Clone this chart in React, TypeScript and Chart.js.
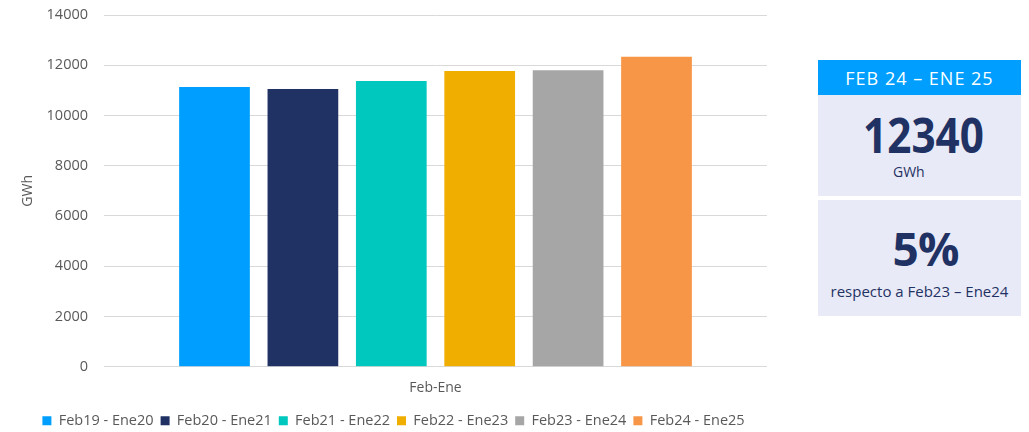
import { useEffect, useRef } from "react";
import { Chart, registerables } from "chart.js";

Chart.register(...registerables);

// Periods (Feb–Ene) shown as a single category with one bar per period
const categories = ["Feb-Ene"];
const seriesLabels = [
  "Feb19 - Ene20",
  "Feb20 - Ene21",
  "Feb21 - Ene22",
  "Feb22 - Ene23",
  "Feb23 - Ene24",
  "Feb24 - Ene25",
];
const seriesValues = [11130, 11050, 11370, 11770, 11800, 12340];
const seriesColors = ["#009FFF", "#203263", "#00C8BE", "#F0AE00", "#A6A6A6", "#F79646"];
const yTickValues = [0, 2000, 4000, 6000, 8000, 10000, 12000, 14000];

const yAxisTitle = "GWh";
const summaryPeriod = "FEB 24 – ENE 25";
const summaryUnit = "GWh";
const summaryCompare = "respecto a Feb23 – Ene24";

const FONT = "'Open Sans', 'Noto Sans', sans-serif";
const TEXT_GREY = "#595959";
const NAVY = "#1F3263";

export default function App() {
  const canvasRef = useRef<HTMLCanvasElement | null>(null);

  const total = seriesValues[seriesValues.length - 1];
  const previous = seriesValues[seriesValues.length - 2];
  const changePct = Math.round((total / previous - 1) * 100);

  useEffect(() => {
    if (!canvasRef.current) return;
    const chart = new Chart(canvasRef.current, {
      type: "bar",
      data: {
        labels: categories,
        datasets: seriesLabels.map((label, i) => ({
          label,
          data: [seriesValues[i]],
          backgroundColor: seriesColors[i],
          borderWidth: 0,
          categoryPercentage: 0.8,
          barPercentage: 0.8,
        })),
      },
      options: {
        animation: false,
        responsive: false,
        devicePixelRatio: 1,
        layout: { padding: { top: 15, right: 23, left: 20, bottom: 2 } },
        plugins: {
          tooltip: { enabled: false },
          legend: {
            position: "bottom",
            labels: {
              boxWidth: 9,
              boxHeight: 9,
              padding: 7,
              color: TEXT_GREY,
              font: { family: FONT, size: 14.5, lineHeight: 1.6 },
            },
          },
        },
        scales: {
          x: {
            grid: { display: false },
            border: { display: false },
            afterFit: (scale: any) => {
              scale.height += 5;
            },
            ticks: {
              color: TEXT_GREY,
              padding: 5,
              font: { family: FONT, size: 14 },
            },
          },
          y: {
            min: 0,
            max: 14000,
            afterBuildTicks: (scale: any) => {
              scale.ticks = yTickValues.map((v) => ({ value: v }));
            },
            afterFit: (scale: any) => {
              scale.width = 84;
              // top gap comes from the layout padding alone
              scale.paddingTop = 0;
            },
            grid: { color: "#D9D9D9", lineWidth: 1, drawTicks: false },
            border: { display: false },
            ticks: {
              color: TEXT_GREY,
              padding: 16,
              font: { family: FONT, size: 14.5 },
              callback: (value: any) => String(value),
            },
            title: {
              display: true,
              text: yAxisTitle,
              color: TEXT_GREY,
              font: { family: FONT, size: 14 },
              padding: { top: 0, bottom: 4 },
            },
          },
        },
      },
    });
    return () => chart.destroy();
  }, []);

  return (
    <div
      style={{
        position: "absolute",
        left: 0,
        top: 0,
        width: 1029,
        height: 432,
        background: "#ffffff",
        overflow: "hidden",
        fontFamily: FONT,
      }}
    >
      <canvas
        ref={canvasRef}
        width={790}
        height={440}
        style={{ position: "absolute", left: 0, top: 0, width: 790, height: 440 }}
      />
      <div
        style={{
          position: "absolute",
          left: 818,
          top: 60,
          width: 203,
          height: 35,
          background: "#009FFF",
          color: "#ffffff",
          fontSize: 18,
          letterSpacing: 1,
          display: "flex",
          alignItems: "center",
          justifyContent: "center",
        }}
      >
        {summaryPeriod}
      </div>
      <div
        style={{
          position: "absolute",
          left: 818,
          top: 95,
          width: 203,
          height: 101,
          background: "#E9EAF7",
          color: NAVY,
        }}
      >
        <div
          style={{
            position: "absolute",
            left: 4,
            width: 203,
            top: 12,
            textAlign: "center",
            fontSize: 48,
            fontWeight: 700,
            lineHeight: "56px",
            transform: "scaleX(0.88)",
          }}
        >
          {total}
        </div>
        <div
          style={{
            position: "absolute",
            left: 75,
            top: 67,
            fontSize: 14,
            lineHeight: "20px",
          }}
        >
          {summaryUnit}
        </div>
      </div>
      <div
        style={{
          position: "absolute",
          left: 818,
          top: 200,
          width: 203,
          height: 116,
          background: "#E9EAF7",
          color: NAVY,
        }}
      >
        <div
          style={{
            position: "absolute",
            left: 6,
            width: 203,
            top: 20,
            textAlign: "center",
            fontSize: 46,
            fontWeight: 700,
            letterSpacing: -1,
            lineHeight: "56px",
          }}
        >
          {changePct}%
        </div>
        <div
          style={{
            position: "absolute",
            left: 0,
            width: 203,
            top: 81,
            textAlign: "center",
            fontSize: 15,
            lineHeight: "20px",
            whiteSpace: "nowrap",
          }}
        >
          {summaryCompare}
        </div>
      </div>
    </div>
  );
}
